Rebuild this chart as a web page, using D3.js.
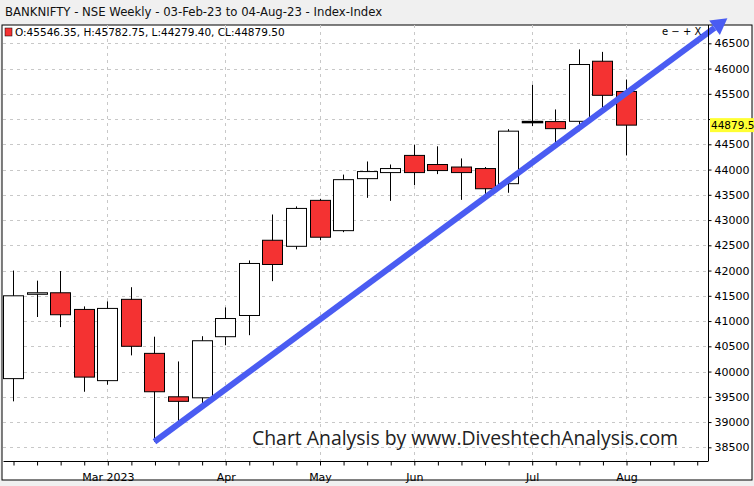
<!DOCTYPE html>
<html>
<head>
<meta charset="utf-8">
<script src="https://cdn.jsdelivr.net/npm/d3@7"></script>
<style>
  body { margin: 0; background: #f0f0f0; }
  svg { display: block; font-family: Tahoma, "DejaVu Sans", sans-serif; }
</style>
</head>
<body>
<svg id="viz" width="754" height="486"></svg>
<script>
  // weekly candles, 03-Feb-23 .. 04-Aug-23
  const weeks = d3.range(27).map((i) => d3.timeWeek.offset(new Date(2023, 1, 3), i));
  const opens  = [39860, 41530, 41560, 41230, 39820, 41430, 40360, 39500, 39480, 40690, 41110, 42600, 42480, 43390,
                  42790, 43820, 43940, 44280, 44100, 44050, 44020, 43720, 44950, 44950, 44955, 46145, 45546.35];
  const highs  = [42000, 41800, 41990, 41290, 41390, 41670, 40690, 40200, 40700, 41270, 42200, 43110, 43270, 43420,
                  43900, 44160, 44100, 44490, 44460, 44220, 44050, 44800, 45680, 45190, 46380, 46330, 45782.75];
  const lows   = [39410, 41080, 40880, 39600, 39740, 40320, 38610, 39020, 39350, 40520, 40720, 41790, 42420, 42600,
                  42760, 43440, 43380, 43690, 43910, 43400, 43400, 43540, 44860, 44545, 44760, 45230, 44279.40];
  const closes = [41500, 41560, 41125, 39890, 41250, 40500, 39600, 39410, 40610, 41050, 42140, 42120, 43230, 42660,
                  43800, 43960, 44020, 43940, 43980, 43940, 43620, 44760, 44950, 44810, 46080, 45470, 44879.50];
  const priceTicks = d3.range(38500, 46501, 500);
  const monthTicks = [4, 9, 13, 17, 22, 26];
  const monthLabels = ['Mar 2023', 'Apr', 'May', 'Jun', 'Jul', 'Aug'];
  const trend = [{ i: 6, v: 38610 }, { i: 30.3, v: 46995 }];
  const title = 'BANKNIFTY - NSE Weekly - 03-Feb-23 to 04-Aug-23 - Index-Index';
  const legendText = 'O:45546.35, H:45782.75, L:44279.40, CL:44879.50';

(() => {
  const svg = d3.select('#viz');
  const left = 3, right = 708, top = 25, bottom = 461;

  const x = d3.scaleLinear().domain([0, 26]).range([13, 626]);
  const y = d3.scaleLinear().domain([38500, 46500]).range([447.3, 43.3]);
  const last = closes[closes.length - 1];

  svg.append('text').attr('x', 5).attr('y', 16).attr('font-size', 13).attr('fill', '#111')
    .attr('font-family', '"DejaVu Sans Condensed", Tahoma, sans-serif').text(title);

  svg.append('rect').attr('x', 2).attr('y', top).attr('width', 750).attr('height', 455)
    .attr('fill', '#fff').attr('stroke', '#000');

  const plot = svg.append('g');

  // grid
  plot.selectAll('line.hg').data(priceTicks).join('line')
    .attr('x1', left).attr('x2', right).attr('y1', (d) => Math.round(y(d)) + 0.5).attr('y2', (d) => Math.round(y(d)) + 0.5)
    .attr('stroke', '#c8c8c8').attr('stroke-dasharray', '3,4');
  plot.selectAll('line.vg').data(monthTicks).join('line')
    .attr('y1', top).attr('y2', bottom).attr('x1', (d) => Math.round(x(d)) + 0.5).attr('x2', (d) => Math.round(x(d)) + 0.5)
    .attr('stroke', '#c8c8c8').attr('stroke-dasharray', '3,4');

  // candles
  const bw = 20;
  const cg = plot.selectAll('g.c').data(weeks.map((w, i) => i)).join('g');
  cg.append('line')
    .attr('x1', (i) => Math.round(x(i)) + 0.5).attr('x2', (i) => Math.round(x(i)) + 0.5)
    .attr('y1', (i) => y(highs[i])).attr('y2', (i) => y(lows[i]))
    .attr('stroke', '#000');
  cg.append('rect')
    .attr('x', (i) => Math.round(x(i) - bw / 2) + 0.5)
    .attr('y', (i) => y(Math.max(opens[i], closes[i])))
    .attr('width', bw)
    .attr('height', (i) => Math.max(1, y(Math.min(opens[i], closes[i])) - y(Math.max(opens[i], closes[i]))))
    .attr('fill', (i) => closes[i] < opens[i] ? '#f43232' : '#fff')
    .attr('stroke', '#000').attr('stroke-width', (i) => Math.abs(closes[i] - opens[i]) < 1 ? 1.5 : 1);

  // watermark
  svg.append('text').attr('x', 252).attr('y', 445).attr('font-size', 19.4)
    .attr('font-family', '"Open Sans", sans-serif').attr('fill', '#222')
    .text('Chart Analysis by www.DiveshtechAnalysis.com');

  // trend arrow
  const p0 = [x(trend[0].i), y(trend[0].v)], p1 = [x(trend[1].i), y(trend[1].v)];
  const ang = Math.atan2(p1[1] - p0[1], p1[0] - p0[0]);
  const back = [p1[0] - 16 * Math.cos(ang), p1[1] - 16 * Math.sin(ang)];
  svg.append('line').attr('x1', p0[0]).attr('y1', p0[1]).attr('x2', back[0]).attr('y2', back[1])
    .attr('stroke', '#4a5cf2').attr('stroke-width', 6);
  const hw = 9;
  svg.append('path').attr('fill', '#4a5cf2')
    .attr('d', `M${p1[0]},${p1[1]}L${back[0] - hw * Math.sin(ang)},${back[1] + hw * Math.cos(ang)}L${back[0] + hw * Math.sin(ang)},${back[1] - hw * Math.cos(ang)}Z`);

  // legend row
  svg.append('rect').attr('x', 5).attr('y', 28).attr('width', 7).attr('height', 8).attr('fill', '#f43232').attr('stroke', '#000').attr('stroke-width', 0.5);
  svg.append('text').attr('x', 15).attr('y', 36).attr('font-size', 10.5).attr('fill', '#000').text(legendText);
  svg.append('text').attr('x', 662).attr('y', 35).attr('font-size', 10).attr('fill', '#000').text('e − + X');

  // axes (tick label hidden behind the last-price tag)
  const yAxis = d3.axisRight(y).tickValues(priceTicks).tickSize(3)
    .tickFormat((d) => Math.abs(y(d) - y(last)) < 10 ? '' : d3.format('d')(d));
  const ya = svg.append('g').attr('transform', `translate(${right + 0.5},0)`).call(yAxis);
  ya.select('.domain').attr('d', `M0,${top}V${bottom}`);
  ya.selectAll('text').attr('font-size', 11).attr('font-family', 'Tahoma, "DejaVu Sans", sans-serif').attr('fill', '#000');

  const xAxis = d3.axisBottom(x).tickValues(d3.range(0, 30)).tickSize(4).tickFormat((d) => {
    const k = monthTicks.indexOf(d);
    return k >= 0 ? monthLabels[k] : '';
  });
  const xa = svg.append('g').attr('transform', `translate(0.5,${bottom + 0.5})`).call(xAxis);
  xa.select('.domain').attr('d', `M${left},0H${right}`);
  xa.selectAll('.tick').filter((d) => x(d) > right).remove();
  xa.selectAll('text').attr('font-size', 11).attr('dy', '1.1em').attr('font-family', 'Tahoma, "DejaVu Sans", sans-serif').attr('fill', '#000');

  // last price tag
  svg.append('rect').attr('x', right + 2).attr('y', y(last) - 7).attr('width', 44).attr('height', 14).attr('fill', '#ffff33');
  svg.append('text').attr('x', right + 3).attr('y', y(last) + 4).attr('font-size', 10.5).attr('fill', '#000').text(d3.format('.1f')(last));
})();
</script>
</body>
</html>
